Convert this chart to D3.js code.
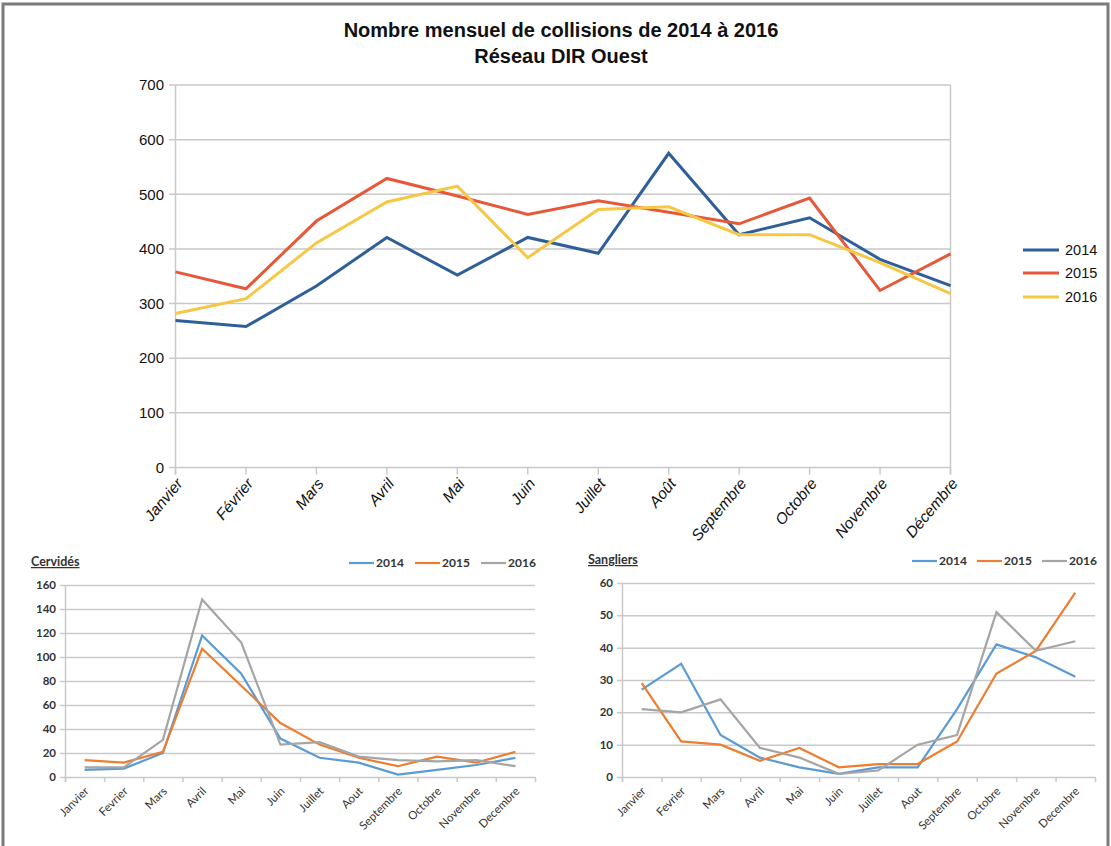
<!DOCTYPE html>
<html>
<head>
<meta charset="utf-8">
<script src="https://cdn.jsdelivr.net/npm/d3@7"></script>
<style>
  html, body { margin: 0; padding: 0; background: #fff; }
  svg { display: block; }
</style>
</head>
<body>
<svg id="chart" width="1111" height="846"></svg>
<script>
// ---------- DATA ----------
const months = ["Janvier","Février","Mars","Avril","Mai","Juin","Juillet","Août","Septembre","Octobre","Novembre","Décembre"];
const monthsPlain = ["Janvier","Fevrier","Mars","Avril","Mai","Juin","Juillet","Aout","Septembre","Octobre","Novembre","Decembre"];
const years = ["2014","2015","2016"];

const total2014 = [269, 258, 332, 421, 352, 421, 392, 575, 426, 457, 381, 333];
const total2015 = [358, 327, 451, 529, 497, 463, 488, 467, 446, 493, 324, 391];
const total2016 = [282, 309, 411, 486, 515, 384, 472, 477, 426, 426, 375, 318];

const cerv2014 = [6, 7, 20, 118, 86, 32, 16, 12, 2, 6, 10, 16];
const cerv2015 = [14, 12, 21, 107, 76, 45, 27, 16, 9, 17, 12, 21];
const cerv2016 = [8, 8, 31, 148, 112, 27, 29, 17, 14, 13, 14, 9];

const sang2014 = [27, 35, 13, 6, 3, 1, 3, 3, 21, 41, 37, 31];
const sang2015 = [29, 11, 10, 5, 9, 3, 4, 4, 11, 32, 39, 57];
const sang2016 = [21, 20, 24, 9, 6, 1, 2, 10, 13, 51, 39, 42];

const mainTicks = [0, 100, 200, 300, 400, 500, 600, 700];
const cervTicks = [0, 20, 40, 60, 80, 100, 120, 140, 160];
const sangTicks = [0, 10, 20, 30, 40, 50, 60];

const titleLine1 = "Nombre mensuel de collisions de 2014 à 2016";
const titleLine2 = "Réseau DIR Ouest";
const cervTitle = "Cervidés";
const sangTitle = "Sangliers";

// ---------- STYLE ----------
const mainColors = ["#2f5f99", "#e6583a", "#f5c744"];
const smallColors = ["#5b9bd5", "#ed7d31", "#a5a5a5"];
const gridColor = "#c9c9c9";
const fontMain = "'Liberation Sans', Arial, sans-serif";
const fontSmall = "Lato, 'Open Sans', sans-serif";

const svg = d3.select("#chart");

// frame
svg.append("rect")
  .attr("x", 3).attr("y", 4).attr("width", 1105).attr("height", 860)
  .attr("fill", "none").attr("stroke", "#7b7b7b").attr("stroke-width", 3);

// ---------- TITLE ----------
svg.append("text").attr("x", 561).attr("y", 37)
  .attr("text-anchor", "middle").attr("font-family", fontMain)
  .attr("font-weight", "bold").attr("font-size", 20).attr("fill", "#111")
  .text(titleLine1);
svg.append("text").attr("x", 561).attr("y", 63)
  .attr("text-anchor", "middle").attr("font-family", fontMain)
  .attr("font-weight", "bold").attr("font-size", 20).attr("fill", "#111")
  .text(titleLine2);

// ---------- MAIN CHART ----------
(function () {
  const x = d3.scalePoint().domain(months).range([175.5, 950.5]);
  const y = d3.scaleLinear().domain([0, 700]).range([467.5, 85]);
  const g = svg.append("g");

  g.selectAll("line.grid").data(mainTicks).join("line")
    .attr("x1", 169).attr("x2", 950.5)
    .attr("y1", d => y(d)).attr("y2", d => y(d))
    .attr("stroke", gridColor).attr("stroke-width", 1.5);
  g.append("line").attr("x1", 175.5).attr("x2", 175.5).attr("y1", y(700)).attr("y2", y(0) + 7)
    .attr("stroke", gridColor).attr("stroke-width", 1.5);
  g.append("line").attr("x1", 950.5).attr("x2", 950.5).attr("y1", y(700)).attr("y2", y(0) + 7)
    .attr("stroke", gridColor).attr("stroke-width", 1.5);
  g.selectAll("line.xt").data(months).join("line")
    .attr("x1", d => x(d)).attr("x2", d => x(d))
    .attr("y1", y(0)).attr("y2", y(0) + 7)
    .attr("stroke", gridColor).attr("stroke-width", 1.5);

  g.selectAll("text.yl").data(mainTicks).join("text")
    .attr("x", 164).attr("y", d => y(d)).attr("dy", "0.35em")
    .attr("text-anchor", "end").attr("font-family", fontMain)
    .attr("font-size", 15).attr("fill", "#111")
    .text(d => d);

  g.selectAll("text.xl").data(months).join("text")
    .attr("transform", d => `translate(${x(d) + 4},${y(0) + 13}) rotate(-50)`)
    .attr("text-anchor", "end").attr("dy", "0.35em")
    .attr("font-family", fontMain).attr("font-style", "italic")
    .attr("font-size", 15.5).attr("fill", "#111")
    .text(d => d);

  const series = [total2014, total2015, total2016];
  const line = d3.line().x((d, i) => x(months[i])).y(d => y(d));
  series.forEach((s, k) => {
    g.append("path").datum(s).attr("d", line)
      .attr("fill", "none").attr("stroke", mainColors[k])
      .attr("stroke-width", 3).attr("stroke-linejoin", "miter");
  });

  const ly = [250, 273, 297];
  years.forEach((yr, k) => {
    g.append("line").attr("x1", 1023).attr("x2", 1059)
      .attr("y1", ly[k]).attr("y2", ly[k])
      .attr("stroke", mainColors[k]).attr("stroke-width", 3);
    g.append("text").attr("x", 1065).attr("y", ly[k]).attr("dy", "0.35em")
      .attr("font-family", fontMain).attr("font-size", 14.5).attr("fill", "#111")
      .text(yr);
  });
})();

// ---------- SMALL CHARTS ----------
function smallChart(opts) {
  const { x0, x1, yTop, yBot, max, ticks, data, title, titleX, legendX } = opts;
  const x = d3.scaleBand().domain(monthsPlain).range([x0, x1]);
  const y = d3.scaleLinear().domain([0, max]).range([yBot, yTop]);
  const g = svg.append("g");
  const cx = d => x(d) + x.bandwidth() / 2;

  g.selectAll("line.grid").data(ticks).join("line")
    .attr("x1", x0 - 5).attr("x2", x1)
    .attr("y1", d => y(d) + 0.5).attr("y2", d => y(d) + 0.5)
    .attr("stroke", gridColor).attr("stroke-width", 1.5);
  g.append("line").attr("x1", x0 + 0.5).attr("x2", x0 + 0.5)
    .attr("y1", y(max)).attr("y2", yBot + 5)
    .attr("stroke", gridColor).attr("stroke-width", 1.5);
  const bounds = monthsPlain.map(d => x(d)).concat([x1]);
  g.selectAll("line.xt").data(bounds).join("line")
    .attr("x1", d => d + 0.5).attr("x2", d => d + 0.5)
    .attr("y1", yBot).attr("y2", yBot + 5)
    .attr("stroke", gridColor).attr("stroke-width", 1.5);

  g.selectAll("text.yl").data(ticks).join("text")
    .attr("x", x0 - 9).attr("y", d => y(d)).attr("dy", "0.35em")
    .attr("text-anchor", "end").attr("font-family", fontSmall)
    .attr("font-weight", "bold").attr("font-size", 11.5).attr("fill", "#333")
    .text(d => d);

  g.selectAll("text.xl").data(monthsPlain).join("text")
    .attr("transform", d => `translate(${cx(d) + 2},${yBot + 12}) rotate(-45)`)
    .attr("text-anchor", "end").attr("dy", "0.35em")
    .attr("font-family", fontSmall).attr("font-size", 11.5).attr("fill", "#333")
    .text(d => d);

  const line = d3.line().x((d, i) => cx(monthsPlain[i])).y(d => y(d));
  data.forEach((s, k) => {
    g.append("path").datum(s).attr("d", line)
      .attr("fill", "none").attr("stroke", smallColors[k])
      .attr("stroke-width", 2.2).attr("stroke-linejoin", "miter");
  });

  g.append("text").attr("x", titleX).attr("y", yTop - 19)
    .attr("font-family", fontSmall).attr("font-weight", "bold")
    .attr("font-size", 12.5).attr("fill", "#333")
    .attr("text-decoration", "underline")
    .text(title);

  const ly = yTop - 22;
  years.forEach((yr, k) => {
    const lx = legendX[k];
    g.append("line").attr("x1", lx).attr("x2", lx + 25)
      .attr("y1", ly).attr("y2", ly)
      .attr("stroke", smallColors[k]).attr("stroke-width", 2.2);
    g.append("text").attr("x", lx + 27).attr("y", ly).attr("dy", "0.35em")
      .attr("font-family", fontSmall).attr("font-weight", "bold")
      .attr("font-size", 12).attr("fill", "#333")
      .text(yr);
  });
}

smallChart({
  x0: 65, x1: 535, yTop: 585, yBot: 777, max: 160, ticks: cervTicks,
  data: [cerv2014, cerv2015, cerv2016], title: cervTitle, titleX: 31,
  legendX: [349, 415, 481]
});
smallChart({
  x0: 622, x1: 1095, yTop: 583, yBot: 777, max: 60, ticks: sangTicks,
  data: [sang2014, sang2015, sang2016], title: sangTitle, titleX: 588,
  legendX: [912, 977, 1042]
});
</script>
</body>
</html>
